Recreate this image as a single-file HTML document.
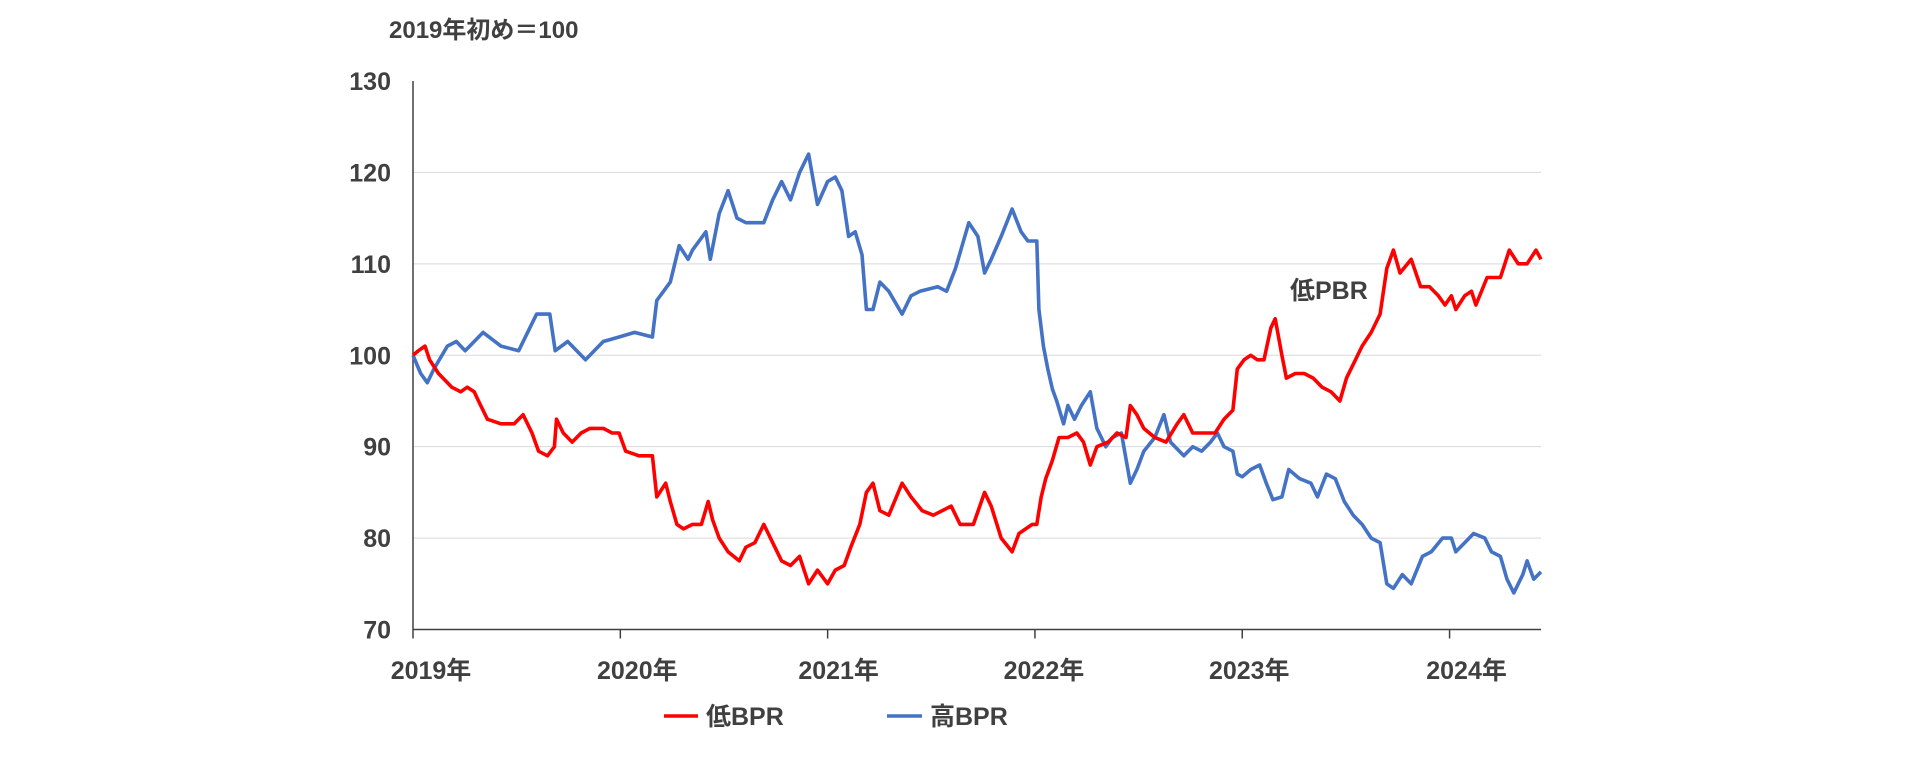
<!DOCTYPE html>
<html><head><meta charset="utf-8"><style>
html,body{margin:0;padding:0;background:#fff;}
svg{display:block;font-family:"Liberation Sans","Noto Sans CJK JP",sans-serif;}
text{fill:#404040;font-weight:bold;}
</style></head><body>
<svg id="chart" width="1920" height="760"></svg>
<script>
const yTicks=[70,80,90,100,110,120,130];
const yearLabels=["2019年","2020年","2021年","2022年","2023年","2024年"];
const yearValues=[2019,2020,2021,2022,2023,2024];
const lowDates=[2019.0,2019.026,2019.058,2019.08,2019.123,2019.187,2019.23,2019.262,2019.295,2019.316,2019.359,2019.424,2019.488,2019.531,2019.574,2019.606,2019.649,2019.682,2019.692,2019.725,2019.768,2019.811,2019.854,2019.918,2019.961,2019.994,2020.026,2020.09,2020.155,2020.176,2020.219,2020.241,2020.273,2020.305,2020.348,2020.391,2020.424,2020.445,2020.477,2020.52,2020.574,2020.606,2020.649,2020.692,2020.735,2020.778,2020.821,2020.865,2020.908,2020.951,2021.0,2021.037,2021.08,2021.112,2021.155,2021.187,2021.219,2021.252,2021.295,2021.359,2021.402,2021.456,2021.51,2021.596,2021.639,2021.703,2021.757,2021.789,2021.837,2021.89,2021.923,2021.987,2022.009,2022.03,2022.052,2022.084,2022.116,2022.159,2022.202,2022.234,2022.267,2022.299,2022.353,2022.396,2022.439,2022.46,2022.492,2022.525,2022.578,2022.632,2022.686,2022.718,2022.761,2022.826,2022.869,2022.912,2022.955,2022.976,2023.009,2023.041,2023.073,2023.105,2023.138,2023.159,2023.191,2023.213,2023.256,2023.299,2023.342,2023.385,2023.428,2023.471,2023.503,2023.535,2023.578,2023.622,2023.665,2023.697,2023.729,2023.761,2023.815,2023.86,2023.903,2023.946,2023.978,2024.009,2024.03,2024.073,2024.106,2024.127,2024.181,2024.245,2024.288,2024.331,2024.374,2024.417,2024.441];
const lowValues=[100,100.5,101,99.5,98,96.5,96,96.5,96,95,93,92.5,92.5,93.5,91.5,89.5,89,90,93,91.5,90.5,91.5,92,92,91.5,91.5,89.5,89,89,84.5,86,84,81.5,81,81.5,81.5,84,82,80,78.5,77.5,79,79.5,81.5,79.5,77.5,77,78,75,76.5,75,76.5,77,79,81.5,85,86,83,82.5,86,84.5,83,82.5,83.5,81.5,81.5,85,83.5,80,78.5,80.5,81.5,81.5,84.5,86.5,88.5,91,91,91.5,90.5,88,90,90.5,91.5,91,94.5,93.5,92,91,90.5,92.5,93.5,91.5,91.5,91.5,93,94,98.5,99.5,100,99.5,99.5,103,104,100,97.5,98,98,97.5,96.5,96,95,97.5,99,101,102.5,104.5,109.5,111.5,109,110.5,107.5,107.5,106.5,105.5,106.5,105,106.5,107,105.5,108.5,108.5,111.5,110,110,111.5,110.5];
const highDates=[2019.0,2019.037,2019.069,2019.101,2019.166,2019.209,2019.252,2019.338,2019.424,2019.51,2019.596,2019.66,2019.686,2019.746,2019.832,2019.918,2019.994,2020.069,2020.155,2020.176,2020.241,2020.284,2020.327,2020.348,2020.413,2020.434,2020.477,2020.52,2020.563,2020.606,2020.692,2020.735,2020.778,2020.821,2020.865,2020.908,2020.951,2021.0,2021.037,2021.069,2021.101,2021.133,2021.166,2021.187,2021.219,2021.252,2021.295,2021.359,2021.402,2021.445,2021.531,2021.574,2021.617,2021.681,2021.725,2021.757,2021.789,2021.837,2021.89,2021.933,2021.966,2022.009,2022.019,2022.041,2022.062,2022.084,2022.105,2022.138,2022.159,2022.191,2022.224,2022.267,2022.299,2022.342,2022.374,2022.417,2022.46,2022.492,2022.525,2022.578,2022.622,2022.654,2022.718,2022.761,2022.804,2022.847,2022.88,2022.912,2022.955,2022.976,2023.0,2023.041,2023.084,2023.116,2023.148,2023.191,2023.224,2023.277,2023.331,2023.363,2023.406,2023.449,2023.492,2023.535,2023.578,2023.622,2023.665,2023.697,2023.729,2023.772,2023.815,2023.869,2023.912,2023.966,2024.009,2024.03,2024.073,2024.116,2024.17,2024.202,2024.245,2024.277,2024.31,2024.353,2024.374,2024.406,2024.441];
const highValues=[100,98,97,98.5,101,101.5,100.5,102.5,101,100.5,104.5,104.5,100.5,101.5,99.5,101.5,102,102.5,102,106,108,112,110.5,111.5,113.5,110.5,115.5,118,115,114.5,114.5,117,119,117,120,122,116.5,119,119.5,118,113,113.5,111,105,105,108,107,104.5,106.5,107,107.5,107,109.5,114.5,113,109,110.5,113,116,113.5,112.5,112.5,105,101,98.5,96.3,95,92.5,94.5,93,94.5,96,92,90,91,91.5,86,87.5,89.5,91,93.5,90.5,89,90,89.5,90.5,91.5,90,89.5,87,86.7,87.5,88,86,84.2,84.5,87.5,86.5,86,84.5,87,86.5,84,82.5,81.5,80,79.5,75,74.5,76,75,78,78.5,80,80,78.5,79.5,80.5,80,78.5,78,75.5,74,76,77.5,75.5,76.3];

const NS="http://www.w3.org/2000/svg";
const svg=document.getElementById('chart');
const L=413,R=1541,T=81,B=629.5;
const X0=2019,X1=2024.441;
const xScale=t=>L+(t-X0)/(X1-X0)*(R-L);
const yScale=v=>B-(v-70)/60*(B-T);
function mk(tag,attrs,text){const e=document.createElementNS(NS,tag);for(const k in attrs)e.setAttribute(k,attrs[k]);if(text!==undefined)e.textContent=text;svg.appendChild(e);return e;}
const labelOffsets=[18,17,11,9,7,17];

yTicks.forEach(v=>{
  if(v>70&&v<130){
    const g=mk('line',{x1:L,x2:R,y1:yScale(v),y2:yScale(v),stroke:'#d9d9d9','stroke-width':1});
    
    
  }
  const t=mk('text',{x:391,y:yScale(v)+9,'text-anchor':'end','font-size':25},String(v));
  
  
});
yearValues.forEach((yv,i)=>{
  const x=xScale(yv);
  const tk=mk('line',{x1:x,x2:x,y1:B,y2:B+9,stroke:'#404040','stroke-width':1.5});
  
  
  const t=mk('text',{x:x+labelOffsets[i],y:679,'text-anchor':'middle','font-size':25},yearLabels[i]);
  
  
});
const ya=mk('line',{x1:L,x2:L,y1:T,y2:B,stroke:'#404040','stroke-width':1.5});


const xa=mk('line',{x1:L,x2:R,y1:B,y2:B,stroke:'#404040','stroke-width':1.5});



function series(dates,vals,color,name){
  const d=dates.map((t,i)=>(i?'L':'M')+xScale(t).toFixed(1)+','+yScale(vals[i]).toFixed(1)).join('');
  const p=mk('path',{d:d,fill:'none',stroke:color,'stroke-width':3.6,'stroke-linejoin':'round'});
  
  
}
series(highDates,highValues,'#4472c4','high-bpr-line');
series(lowDates,lowValues,'#ff0000','low-bpr-line');

const title=mk('text',{x:389,y:38,'font-size':24},'2019年初め＝100');


const ann=mk('text',{x:1290,y:299,'font-size':25},'低PBR');



const l1=mk('line',{x1:664,x2:698,y1:716,y2:716,stroke:'#ff0000','stroke-width':3.5});


const lt1=mk('text',{x:706,y:725,'font-size':25},'低BPR');


const l2=mk('line',{x1:887,x2:922,y1:716,y2:716,stroke:'#4472c4','stroke-width':3.5});


const lt2=mk('text',{x:930,y:725,'font-size':25},'高BPR');


</script>
</body></html>
